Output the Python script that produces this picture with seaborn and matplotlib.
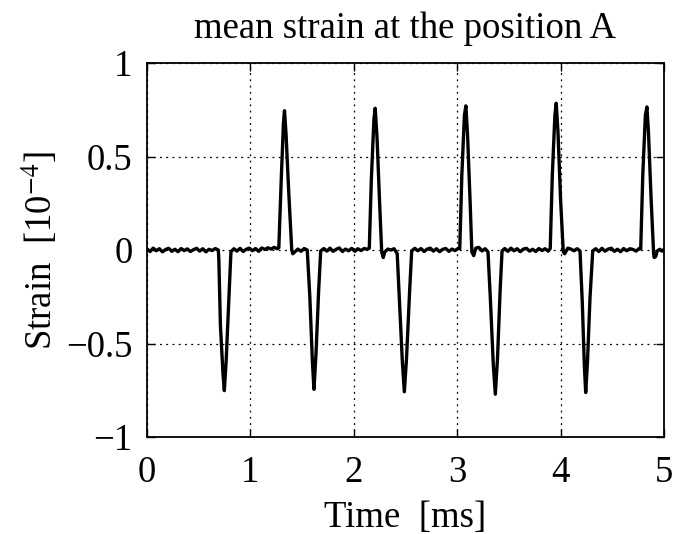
import matplotlib
matplotlib.use("Agg")
import matplotlib.pyplot as plt
import seaborn as sns
import pandas as pd

# ---- data (time in ms, strain in 1e-4) ----
time_ms = [
    0.00, 0.03, 0.06, 0.09, 0.12, 0.15, 0.18, 0.21, 0.24, 0.27, 0.30, 0.33,
    0.36, 0.39, 0.42, 0.45, 0.48, 0.51, 0.54, 0.57, 0.60, 0.63, 0.66, 0.69,
    0.695, 0.71, 0.735, 0.748, 0.765, 0.79, 0.812,
    0.84, 0.87, 0.90, 0.93, 0.96, 0.99, 1.02, 1.05, 1.08, 1.11, 1.14, 1.17,
    1.20, 1.23, 1.26, 1.275,
    1.30, 1.32, 1.330, 1.345, 1.37, 1.40, 1.41, 1.43, 1.46, 1.49, 1.52, 1.55,
    1.575, 1.60, 1.615, 1.635, 1.66, 1.68,
    1.71, 1.74, 1.77, 1.80, 1.83, 1.86, 1.89, 1.92, 1.95, 1.98, 2.01, 2.04,
    2.07, 2.10, 2.13, 2.15,
    2.17, 2.195, 2.207, 2.225, 2.25, 2.27, 2.285, 2.30, 2.33, 2.36, 2.39, 2.42,
    2.44, 2.47, 2.489, 2.51, 2.54, 2.56,
    2.59, 2.62, 2.65, 2.68, 2.71, 2.74, 2.77, 2.80, 2.83, 2.86, 2.89, 2.92,
    2.95, 2.98, 3.01, 3.025,
    3.045, 3.07, 3.084, 3.10, 3.125, 3.142, 3.16, 3.18, 3.21, 3.24, 3.27, 3.298,
    3.32, 3.35, 3.369, 3.39, 3.415, 3.434,
    3.46, 3.49, 3.52, 3.55, 3.58, 3.61, 3.64, 3.67, 3.70, 3.73, 3.76, 3.79,
    3.82, 3.85, 3.88, 3.90,
    3.92, 3.945, 3.958, 3.975, 4.00, 4.026, 4.04, 4.07, 4.10, 4.13, 4.16, 4.188,
    4.21, 4.23, 4.243, 4.26, 4.285, 4.311,
    4.34, 4.37, 4.40, 4.43, 4.46, 4.49, 4.52, 4.55, 4.58, 4.61, 4.64, 4.67,
    4.70, 4.73, 4.76, 4.775,
    4.795, 4.82, 4.835, 4.85, 4.875, 4.90, 4.905, 4.92, 4.935, 4.96, 4.98, 5.00,
]
strain = [
    0.006, -0.008, 0.010, -0.004, 0.007, -0.010, 0.003, 0.009, -0.007, 0.004, -0.009, 0.008,
    -0.003, 0.006, -0.008, 0.002, 0.009, -0.006, 0.007, -0.010, 0.004, -0.003, 0.008, 0.000,
    -0.05, -0.40, -0.66, -0.752, -0.60, -0.28, -0.01,
    0.007, -0.006, 0.009, -0.008, 0.004, 0.010, -0.004, 0.008, -0.007, 0.011, 0.003, 0.012,
    0.005, 0.014, 0.007, 0.012,
    0.40, 0.68, 0.745, 0.62, 0.32, 0.00, -0.02, -0.01, 0.005, -0.007, 0.008, 0.000,
    -0.25, -0.60, -0.745, -0.55, -0.22, -0.005,
    0.008, -0.006, 0.010, -0.007, 0.004, 0.011, -0.008, 0.005, -0.004, 0.009, -0.007, 0.007,
    -0.003, 0.008, 0.004, 0.010,
    0.38, 0.70, 0.758, 0.60, 0.25, -0.01, -0.04, -0.01, 0.005, 0.000, 0.007, -0.02,
    -0.25, -0.60, -0.758, -0.58, -0.22, -0.005,
    0.009, -0.004, 0.008, -0.008, 0.005, 0.010, -0.006, 0.007, -0.009, 0.004, 0.008, -0.007,
    0.005, -0.003, 0.009, 0.007,
    0.40, 0.72, 0.771, 0.62, 0.26, -0.01, -0.03, 0.01, 0.014, -0.005, 0.007, -0.01,
    -0.25, -0.62, -0.771, -0.58, -0.22, -0.005,
    0.008, -0.007, 0.010, -0.004, 0.007, -0.009, 0.005, 0.009, -0.006, 0.004, -0.008, 0.008,
    -0.003, 0.007, -0.006, 0.008,
    0.40, 0.72, 0.785, 0.63, 0.27, -0.01, -0.02, 0.01, 0.005, -0.004, 0.007, -0.005,
    -0.28, -0.62, -0.762, -0.60, -0.25, -0.005,
    0.007, -0.008, 0.009, -0.006, 0.005, 0.010, -0.007, 0.004, -0.009, 0.008, -0.004, 0.007,
    0.003, -0.006, 0.008, 0.006,
    0.40, 0.72, 0.765, 0.63, 0.28, -0.02, -0.04, -0.035, -0.005, 0.004, -0.006, 0.003,
]
x_ticks = [0, 1, 2, 3, 4, 5]
y_ticks = [-1, -0.5, 0, 0.5, 1]
y_tick_labels = ["\u22121", "\u22120.5", "0", "0.5", "1"]

df = pd.DataFrame({"time": time_ms, "strain": strain})

sns.set_theme(style="ticks")
plt.rcParams["font.family"] = ["Liberation Serif", "DejaVu Serif"]
plt.rcParams["mathtext.fontset"] = "stix"

FS = 26.5

fig = plt.figure(figsize=(6.92, 5.34), dpi=100)
ax = fig.add_axes([0.2124, 0.1816, 0.7471, 0.7004])

sns.lineplot(data=df, x="time", y="strain", ax=ax, color="black",
             linewidth=2.4, estimator=None, sort=False)

ax.set_xlim(0, 5)
ax.set_ylim(-1, 1)
ax.set_xticks(x_ticks)
ax.set_xticklabels([str(t) for t in x_ticks])
ax.set_yticks(y_ticks)
ax.set_yticklabels(y_tick_labels)
ax.grid(True, color="black", linestyle=(0, (1.5, 3.5)), linewidth=0.9)
ax.tick_params(direction="in", top=True, right=True, length=6, width=1,
               labelsize=FS, colors="black")
ax.tick_params(axis="x", pad=13)
ax.tick_params(axis="y", pad=10.5)
for sp in ax.spines.values():
    sp.set_visible(True)
    sp.set_linewidth(1.3)
    sp.set_color("black")

ax.set_xlabel("Time  [ms]", fontsize=FS, color="black", labelpad=8)
ax.set_ylabel(r"Strain  [10$^{-4}$]", fontsize=FS, color="black", labelpad=4)
ax.set_title("mean strain at the position A", fontsize=FS, color="black", pad=18)

fig.savefig("out.png", dpi=100, facecolor="white")
